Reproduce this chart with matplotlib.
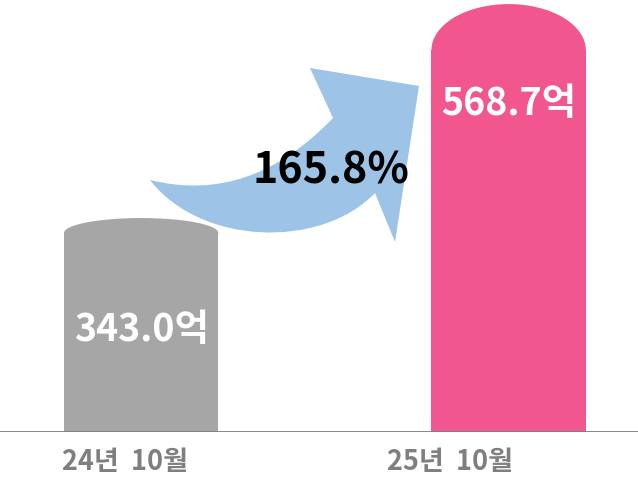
import matplotlib
matplotlib.use('Agg')
import matplotlib.pyplot as plt
from matplotlib.patches import Ellipse, PathPatch
from matplotlib.path import Path

plt.rcParams['font.family'] = ['Noto Sans CJK KR', 'DejaVu Sans']

periods = ['24년  10월', '25년  10월']
values = [343.0, 568.7]
value_labels = ['343.0억', '568.7억']
growth_label = '165.8%'

bar_colors = ['#A6A6A6', '#F2568F']
caps = [15.8, 48.5]          # height of the rounded top, in data units
width = 0.42
label_y = [225, 464]
period_x = [-0.045, 0.841]

W, H = 638, 483
fig = plt.figure(figsize=(W / 100, H / 100), dpi=100)
ax = fig.add_axes([0, 51 / H, 1, 432 / H])
ymin, ymax = 117.3, 573.0
ax.set_xlim(-0.384, 1.352)
ax.set_ylim(ymin, ymax)
ax.axis('off')

xs = list(range(len(values)))
for x, v, c, cap in zip(xs, values, bar_colors, caps):
    ax.bar(x, v - cap - ymin, width, bottom=ymin, color=c, zorder=2)
    ax.add_patch(Ellipse((x, v - cap), width, 2 * cap, color=c, zorder=2, lw=0))

ax.axhline(ymin, color='#808080', lw=1.3, zorder=3)

for x, ly, t in zip(xs, label_y, value_labels):
    ax.text(x, ly, t, color='white', fontsize=27, fontweight='bold',
            ha='center', va='center', zorder=5)

for px, t in zip(period_x, periods):
    ax.text(px, ymin - 31.5, t, color='#7F7F7F', fontsize=19.5, fontweight='bold',
            ha='center', va='center', clip_on=False)

# curved arrow, drawn in pixel space (y down)
def p(x, y):
    return (x / W, 1 - y / H)

verts = [p(150, 180), p(250, 205), p(333, 118),
         p(310, 68), p(419, 86), p(395, 242), p(375, 193),
         p(320, 250), p(200, 245), p(150, 180), p(150, 180)]
codes = [Path.MOVETO, Path.CURVE3, Path.CURVE3,
         Path.LINETO, Path.LINETO, Path.LINETO, Path.LINETO,
         Path.CURVE4, Path.CURVE4, Path.CURVE4, Path.CLOSEPOLY]
arrow = PathPatch(Path(verts, codes), transform=fig.transFigure,
                  facecolor='#9DC3E6', edgecolor='none', zorder=1)
fig.patches.append(arrow)

fig.text(331 / W, 1 - 170 / H, growth_label, color='black', fontsize=31,
         fontweight='bold', ha='center', va='center', zorder=6)

fig.savefig('out.png', dpi=100)
